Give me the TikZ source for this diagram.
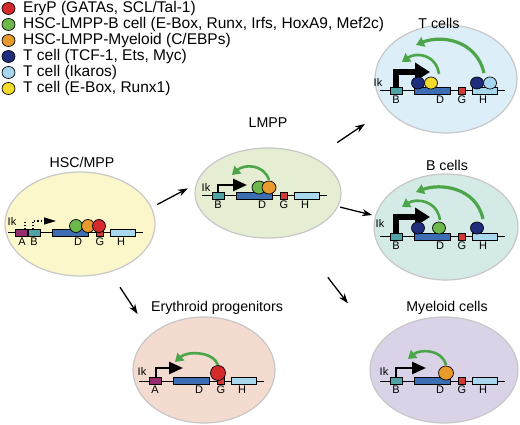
\documentclass[tikz,border=0pt]{standalone}
\usepackage{fontspec}
\setmainfont{Liberation Sans}
\usetikzlibrary{shapes.geometric,arrows.meta}

\definecolor{eryred}{HTML}{D42A2C}
\definecolor{bgreen}{HTML}{6DB84A}
\definecolor{myorange}{HTML}{E99A2C}
\definecolor{tnavy}{HTML}{1F2D7E}
\definecolor{iklight}{HTML}{A7D7F0}
\definecolor{tyellow}{HTML}{F3DB2B}
\definecolor{loopgreen}{HTML}{4DA54A}
\definecolor{boxA}{HTML}{962D6E}
\definecolor{boxB}{HTML}{4FA3A5}
\definecolor{boxD}{HTML}{3D6DB3}
\definecolor{boxG}{HTML}{D23A3A}
\definecolor{boxH}{HTML}{A9D8EE}
\definecolor{hscfill}{HTML}{FBF7CB}
\definecolor{lmppfill}{HTML}{E5EED3}
\definecolor{tfill}{HTML}{DCEEF8}
\definecolor{bfill}{HTML}{D4EAE6}
\definecolor{eryfill}{HTML}{F3DBD0}
\definecolor{myfill}{HTML}{DAD3E8}

\tikzset{
  cell/.style={ellipse, draw=black!22, line width=1.2pt, inner sep=0pt},
  title/.style={inner sep=0pt, font=\fontsize{14.2}{16}\selectfont},
  legtext/.style={anchor=west, inner sep=0pt, font=\fontsize{15.5}{17}\selectfont},
  glabel/.style={inner sep=0pt, font=\fontsize{11}{12}\selectfont},
  gene/.style={line width=1pt},
  box/.style={draw, line width=0.7pt},
  tf/.style={draw, line width=0.7pt},
  prom/.style={line width=2.6pt, -{Triangle[length=14pt,width=12pt]}},
  bigprom/.style={line width=6.5pt, -{Triangle[length=15pt,width=18pt]}},
  loop/.style={draw=loopgreen, line width=2.6pt, -{Triangle[length=8pt,width=10pt]}},
  flow/.style={line width=1.3pt, -{Stealth[length=10pt,width=7pt]}},
}

% line, boxes and letters of the locus, first box at the origin
\newcommand{\locus}[3]{%
  \draw[gene] (-10,0) -- (115,0);
  \filldraw[box, fill=#3] (0,-3.5) rectangle (12,3.5);
  \filldraw[box, fill=boxD] (24,-3.5) rectangle (60,3.5);
  \filldraw[box, fill=boxG] (68,-3.5) rectangle (75,3.5);
  \filldraw[box, fill=boxH] (82,-3.5) rectangle (107,3.5);
  \node[glabel] (#1-first) at (6,8.5) {#2};
  \node[glabel] (#1-d) at (50,8.5) {D};
  \node[glabel] (#1-g) at (72,8.5) {G};
  \node[glabel] (#1-h) at (93,8.5) {H};
}

\begin{document}
\begin{tikzpicture}[x=1pt, y=-1pt]
\useasboundingbox (0,0) rectangle (520,425);

% legend
\foreach \col/\txt [count=\i] in {eryred/{EryP (GATAs, SCL/Tal-1)},
    bgreen/{HSC-LMPP-B cell (E-Box, Runx, Irfs, HoxA9, Mef2c)},
    myorange/{HSC-LMPP-Myeloid (C/EBPs)}, tnavy/{T cell (TCF-1, Ets, Myc)},
    iklight/{T cell (Ikaros)}, tyellow/{T cell (E-Box, Runx1)}} {
  \filldraw[tf, fill=\col] (8.5,{16*\i-7.5}) ellipse (6.5pt and 6pt);
  \node[legtext] (leg\i) at (23,{16*\i-7.5}) {\txt};
}

% cells
\node[cell, fill=hscfill, minimum width=150pt, minimum height=104pt] (hsc) at (80,224) {};
\node[cell, fill=lmppfill, minimum width=146pt, minimum height=90pt] (lmpp) at (268,193) {};
\node[cell, fill=tfill, minimum width=142pt, minimum height=108pt] (tcell) at (446,79) {};
\node[cell, fill=bfill, minimum width=144pt, minimum height=106pt] (bcell) at (446,227) {};
\node[cell, fill=eryfill, minimum width=142pt, minimum height=106pt] (ery) at (204,370) {};
\node[cell, fill=myfill, minimum width=148pt, minimum height=106pt] (myelo) at (444,370) {};

\node[title] (hsc-t) at (82,162) {HSC/MPP};
\node[title] (lmpp-t) at (268,123) {LMPP};
\node[title] (tcell-t) at (439,23) {T cells};
\node[title] (bcell-t) at (447,165) {B cells};
\node[title] (ery-t) at (217,308) {Erythroid progenitors};
\node[title] (myelo-t) at (447,308) {Myeloid cells};

% lineage arrows
\draw[flow, shorten <=6pt, shorten >=9pt] (hsc.13) -- (lmpp.173);
\draw[flow, shorten <=27pt, shorten >=26pt] (lmpp.37) -- (tcell.207);
\draw[flow, shorten <=2pt, shorten >=3pt] (lmpp.-11) -- (bcell.171);
\draw[flow, shorten <=53pt, shorten >=51pt] (lmpp.-57) -- (myelo.158);
\draw[flow, shorten <=18pt, shorten >=24pt] (hsc.-58) -- (ery.146);

% HSC/MPP
\begin{scope}[shift={(28,233)}]
  \draw[gene] (-20,0) -- (-10,0);
  \locus{hsc}{B}{boxB}
  \filldraw[box, fill=boxA] (-13,-3.5) rectangle (-1,3.5);
  \node[glabel] (hsc-a) at (-6,8.5) {A};
  \node[glabel] (hsc-ik) at (-16,-11) {Ik};
  \draw[dotted, line width=1.2pt] (-3,-3.5) -- (-3,-12);
  \draw[dotted, line width=1.2pt, -{Triangle[length=12pt,width=7pt]}] (5,-3.5) -- (5,-12) -- (28,-12);
  \filldraw[tf, fill=bgreen] (48,-7) ellipse (6.5pt and 6.5pt);
  \filldraw[tf, fill=myorange] (60,-7) ellipse (6.5pt and 6.5pt);
  \filldraw[tf, fill=eryred] (71,-7) ellipse (6.5pt and 6.5pt);
\end{scope}

% LMPP
\begin{scope}[shift={(212,196)}]
  \locus{lmpp}{B}{boxB}
  \node[glabel] (lmpp-ik) at (-6,-8) {Ik};
  \draw[prom] (6,-3.5) -- (6,-11) -- (35,-11);
  \filldraw[tf, fill=bgreen] (47,-8.5) ellipse (7pt and 6.5pt);
  \filldraw[tf, fill=myorange] (57,-8.5) ellipse (7pt and 6.5pt);
  \draw[loop] (57,-16) .. controls (52,-32) and (32,-32) .. (20,-21);
\end{scope}

% T cells
\begin{scope}[shift={(390,91)}]
  \locus{tc}{B}{boxB}
  \node[glabel] (tc-ik) at (-12,-8) {Ik};
  \draw[bigprom] (6,-3.5) -- (6,-19) -- (40,-19);
  \filldraw[tf, fill=tnavy] (28,-8) ellipse (6.5pt and 6pt);
  \filldraw[tf, fill=tyellow] (41,-8) ellipse (6.5pt and 6pt);
  \filldraw[tf, fill=tnavy] (87,-8) ellipse (6.5pt and 6pt);
  \filldraw[tf, fill=iklight] (100,-8) ellipse (6.5pt and 6pt);
  \draw[loop, line width=3.2pt] (94,-18) .. controls (86,-52) and (50,-56) .. (26,-46);
  \draw[loop] (49,-17) .. controls (46,-37) and (26,-39) .. (12,-29);
\end{scope}

% B cells
\begin{scope}[shift={(390,237)}]
  \locus{bc}{B}{boxB}
  \node[glabel] (bc-ik) at (-10,-13) {Ik};
  \draw[bigprom] (6,-3.5) -- (6,-20) -- (40,-20);
  \filldraw[tf, fill=tnavy] (28,-9) ellipse (6.5pt and 6pt);
  \filldraw[tf, fill=bgreen] (49,-9) ellipse (6.5pt and 6pt);
  \filldraw[tf, fill=tnavy] (87,-9) ellipse (6.5pt and 6pt);
  \draw[loop, line width=3.2pt] (93,-18) .. controls (86,-50) and (50,-54) .. (26,-45);
  \draw[loop] (50,-17) .. controls (47,-37) and (26,-39) .. (12,-30);
\end{scope}

% Erythroid progenitors
\begin{scope}[shift={(149,381)}]
  \locus{ery}{A}{boxA}
  \node[glabel] (ery-ik) at (-7,-9) {Ik};
  \draw[prom] (7,-3.5) -- (7,-13) -- (34,-13);
  \filldraw[tf, fill=eryred] (69,-8) ellipse (7.5pt and 7.5pt);
  \draw[loop] (69,-16) .. controls (64,-30) and (38,-30) .. (26,-19);
\end{scope}

% Myeloid cells
\begin{scope}[shift={(390,381)}]
  \locus{my}{B}{boxB}
  \node[glabel] (my-ik) at (-6,-9) {Ik};
  \draw[prom] (6,-3.5) -- (6,-13) -- (36,-13);
  \filldraw[tf, fill=myorange] (56,-8) ellipse (7.5pt and 7pt);
  \draw[loop] (56,-16) .. controls (52,-32) and (30,-32) .. (18,-22);
\end{scope}
\end{tikzpicture}
\end{document}
